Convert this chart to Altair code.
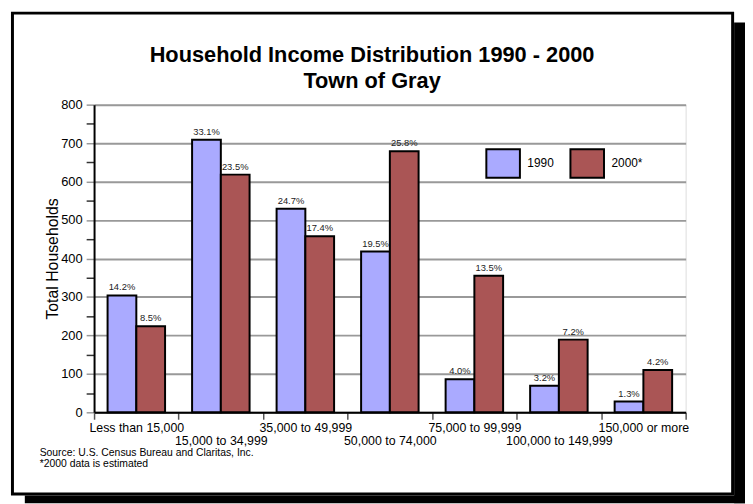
import altair as alt
import pandas as pd

categories = ["Less than 15,000", "15,000 to 34,999", "35,000 to 49,999",
              "50,000 to 74,000", "75,000 to 99,999", "100,000 to 149,999",
              "150,000 or more"]
years = ["1990", "2000*"]
values_1990 = [304, 709, 529, 418, 86, 69, 28]
values_2000 = [224, 618, 458, 679, 355, 189, 110]
pct_1990 = ["14.2%", "33.1%", "24.7%", "19.5%", "4.0%", "3.2%", "1.3%"]
pct_2000 = ["8.5%", "23.5%", "17.4%", "25.8%", "13.5%", "7.2%", "4.2%"]
colors = ["#aaaaff", "#aa5555"]
title_lines = ["Household Income Distribution 1990 - 2000", "Town of Gray"]
footnotes = ["Source: U.S. Census Bureau and Claritas, Inc.", "*2000 data is estimated"]
y_ticks = list(range(0, 801, 50))

rows = []
for c, v1, v2, p1, p2 in zip(categories, values_1990, values_2000, pct_1990, pct_2000):
    rows.append({"cat": c, "year": years[0], "value": v1, "pct": p1})
    rows.append({"cat": c, "year": years[1], "value": v2, "pct": p2})
df = pd.DataFrame(rows)

FONT = "Liberation Sans"
cat_js = "[" + ",".join("'%s'" % c for c in categories) + "]"

x_enc = alt.X("cat:N", sort=categories,
              scale=alt.Scale(paddingInner=0, paddingOuter=0),
              axis=alt.Axis(title=None, labelAngle=0, tickBand="extent",
                            tickSize=7, tickColor="#555555", tickWidth=1.5,
                            domainColor="black", domainWidth=2,
                            labelFontSize=12.5, labelColor="black", labelFont=FONT,
                            labelPadding=2, labelOverlap=False, labelLineHeight=14,
                            labelExpr="indexof(%s, datum.value) %% 2 == 1 ? ['', datum.label] : datum.label" % cat_js,
                            grid=False))
xo_enc = alt.XOffset("year:N", sort=years, scale=alt.Scale(paddingOuter=0.47, paddingInner=0))
y_enc = alt.Y("value:Q", scale=alt.Scale(domain=[0, 800], nice=False),
              axis=alt.Axis(title="Total Households", values=y_ticks, tickCount=len(y_ticks),
                            labelExpr="datum.value % 100 == 0 ? datum.label : ''",
                            labelOverlap=False,
                            gridColor={"condition": {"test": "datum.value % 100 != 0", "value": "transparent"}, "value": "#999999"},
                            gridWidth=2,
                            tickColor={"condition": {"test": "datum.value % 100 != 0", "value": "#333333"}, "value": "#999999"},
                            tickSize=8, tickWidth=1.5, domainColor="black", domainWidth=2,
                            labelFontSize=13, labelColor="black", labelFont=FONT, labelPadding=4,
                            titleFontSize=16, titleFont=FONT, titleFontWeight="normal",
                            titleColor="black", titlePadding=0))

bars = alt.Chart(df).mark_bar(stroke="black", strokeWidth=2).encode(
    x=x_enc, xOffset=xo_enc, y=y_enc,
    color=alt.Color("year:N", sort=years, scale=alt.Scale(domain=years, range=colors),
                    legend=alt.Legend(title=None, orient="none", legendX=398, legendY=44,
                                      direction="horizontal", padding=0,
                                      symbolType="M-1.17,-1H1.17V1H-1.17Z", symbolSize=841,
                                      symbolStrokeColor="black", symbolStrokeWidth=2,
                                      symbolOpacity=1,
                                      labelFontSize=12, labelFont=FONT, labelColor="black",
                                      labelOffset=9, columnPadding=12)),
)

labels = alt.Chart(df).mark_text(baseline="alphabetic", dy=-5, fontSize=9.5, font=FONT,
                                 color="#222222").encode(
    x=alt.X("cat:N", sort=categories), xOffset=alt.XOffset("year:N", sort=years),
    y="value:Q", text="pct:N")

one = alt.Data(values=[{"a": 1}])
shadow_r = alt.Chart(one).mark_rect(color="black").encode(
    x=alt.value(647), x2=alt.value(660), y=alt.value(-83), y2=alt.value(403))
shadow_b = alt.Chart(one).mark_rect(color="black").encode(
    x=alt.value(-70), x2=alt.value(660), y=alt.value(395), y2=alt.value(403))
frame = alt.Chart(one).mark_rect(fill="transparent", stroke="black", strokeWidth=3).encode(
    x=alt.value(-82.5), x2=alt.value(645.5), y=alt.value(-92.5), y2=alt.value(393.5))
title1 = alt.Chart(one).mark_text(align="center", baseline="alphabetic", fontSize=22, font=FONT,
                                  fontWeight="bold", color="black").encode(
    x=alt.value(281), y=alt.value(-43), text=alt.value(title_lines[0]))
title2 = alt.Chart(one).mark_text(align="center", baseline="alphabetic", fontSize=22, font=FONT,
                                  fontWeight="bold", color="black").encode(
    x=alt.value(281), y=alt.value(-17), text=alt.value(title_lines[1]))
foot1 = alt.Chart(one).mark_text(align="left", baseline="alphabetic", fontSize=10.5, font=FONT,
                                 color="black").encode(
    x=alt.value(-55), y=alt.value(355), text=alt.value(footnotes[0]))
foot2 = alt.Chart(one).mark_text(align="left", baseline="alphabetic", fontSize=10.5, font=FONT,
                                 color="black").encode(
    x=alt.value(-55), y=alt.value(366), text=alt.value(footnotes[1]))

chart = alt.layer(shadow_r, shadow_b, frame, bars, labels, title1, title2, foot1, foot2).properties(
    width=598, height=311,
    padding={"left": 87, "top": 95, "right": 60, "bottom": 90},
    autosize=alt.AutoSizeParams(type="none"),
).configure_view(stroke="black", strokeWidth=2).configure(background="white")

chart.save("out.html", embed_options={"renderer": "svg", "actions": False})
